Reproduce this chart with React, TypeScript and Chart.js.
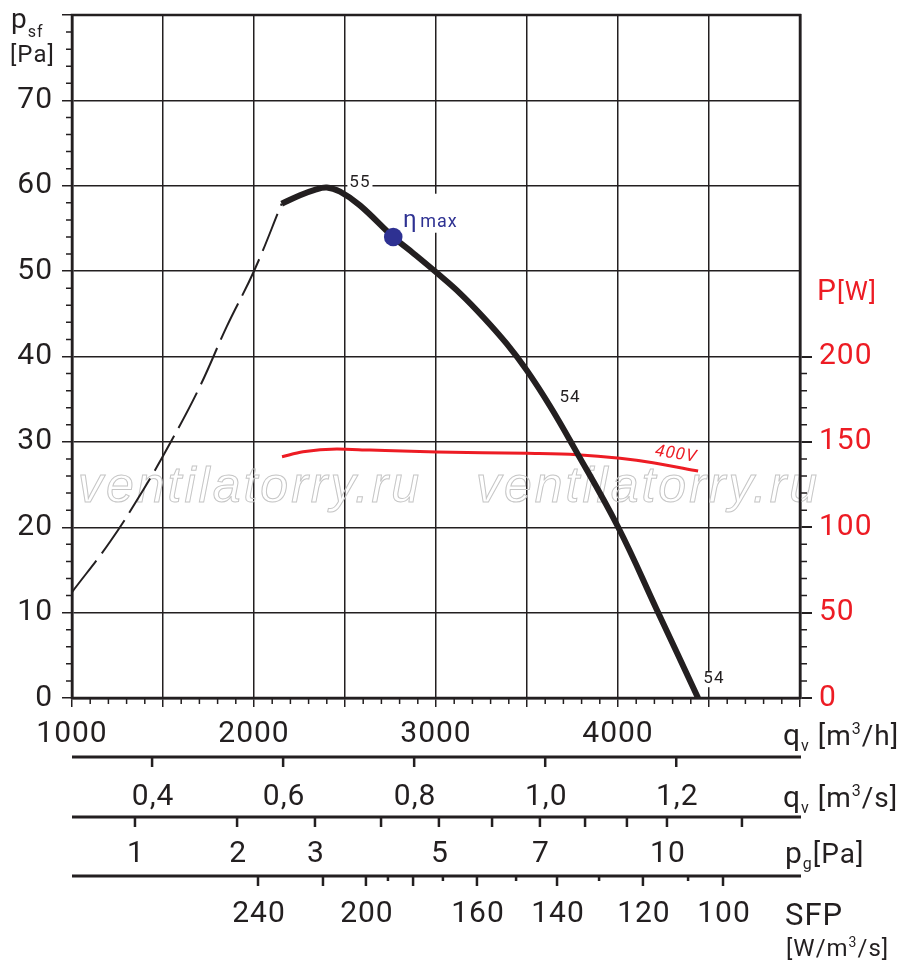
import React, { useEffect, useRef } from 'react';
import { Chart, registerables } from 'chart.js';

Chart.register(...registerables);

const INK = '#231f20';
const RED = '#ed1c24';
const BLUE = '#2e3192';
const FONT = 'Roboto, "DejaVu Sans", sans-serif';

// static pressure, unstable part (dashed) - q [m3/h], psf [Pa]
const psfUnstableQ = [1000, 1209, 1392, 1538, 1703, 1850, 2002, 2152];
const psfUnstable = [12.4, 18.3, 24.4, 29.8, 36.5, 43.5, 50.1, 57.9];

// static pressure, working part
const psfQ = [2152, 2253, 2330, 2400, 2473, 2582, 2765, 2875, 3004, 3132, 3260, 3388, 3498, 3626, 3754, 4001, 4212, 4440];
const psf = [57.9, 58.9, 59.5, 59.8, 59.3, 57.7, 54.0, 52.1, 49.8, 47.4, 44.6, 41.5, 38.4, 34.2, 29.5, 20.0, 10.4, 0];

// power input at 400V - q [m3/h], P [W]
const powerQ = [2154, 2269, 2456, 2637, 3005, 3500, 3775, 4011, 4192, 4440];
const power = [141.3, 144.2, 145.8, 145.2, 144.1, 143.3, 142.5, 140.4, 137.8, 132.9];

// best efficiency point
const etaMax = { q: 2765, p: 54.0 };

// curve labels (q, psf)
const curveLabels = [
  { text: '55', q: 2582, p: 60.3 },
  { text: '54', q: 3736, p: 35.2 },
  { text: '54', q: 4527, p: 2.2 },
];

// secondary axes below the chart
const qvSecTicks = [0.4, 0.6, 0.8, 1.0, 1.2];
const qvSecLabels = ['0,4', '0,6', '0,8', '1,0', '1,2'];

const pgTicks = [1, 2, 3, 4, 5, 6, 7, 8, 9, 10, 12];
const pgTickQ = [1346, 1907, 2335, 2698, 3016, 3308, 3571, 3819, 4049, 4269, 4681];
const pgLabels = [1, 2, 3, 5, 7, 10];

const sfpTicks = [240, 220, 200, 190, 180, 170, 160, 150, 140, 130, 120, 110, 100];
const sfpTickQ = [2022, 2379, 2615, 2736, 2874, 3038, 3225, 3440, 3665, 3896, 4137, 4385, 4577];
const sfpLabels = [240, 200, 160, 140, 120, 100];

type Part = { t: string; size: number; dy?: number };

function drawParts(ctx: CanvasRenderingContext2D, x: number, y: number, parts: Part[]) {
  let cx = x;
  ctx.textAlign = 'left';
  ctx.textBaseline = 'alphabetic';
  for (const p of parts) {
    ctx.font = `${p.size}px ${FONT}`;
    ctx.fillText(p.t, cx, y + (p.dy || 0));
    cx += ctx.measureText(p.t).width;
  }
}

const noPadding = (s: any) => {
  s.paddingTop = 0;
  s.paddingBottom = 0;
  s.paddingLeft = 0;
  s.paddingRight = 0;
};

const decorPlugin = {
  id: 'decor',
  beforeDraw(chart: any) {
    chart.ctx.letterSpacing = '1px';
  },
  beforeDatasetsDraw(chart: any) {
    const { ctx, chartArea: a, scales } = chart;
    const x = scales.x;
    const y = scales.y;
    const y1 = scales.y1;
    ctx.save();

    // watermark
    ctx.font = `italic 50px "Liberation Sans", sans-serif`;
    ctx.letterSpacing = '3px';
    ctx.strokeStyle = '#c6c6c6';
    ctx.lineWidth = 1;
    ctx.textAlign = 'center';
    ctx.textBaseline = 'alphabetic';
    for (const q of [1978, 4165]) {
      ctx.strokeText('ventilatorry.ru', x.getPixelForValue(q), y.getPixelForValue(23));
    }
    ctx.letterSpacing = '1px';

    // frame
    ctx.strokeStyle = INK;
    ctx.lineWidth = 2.5;
    ctx.strokeRect(a.left, a.top, a.right - a.left, a.bottom - a.top);

    // curve labels with white background
    ctx.font = `17px ${FONT}`;
    ctx.textAlign = 'center';
    ctx.textBaseline = 'middle';
    for (const l of curveLabels) {
      const px = x.getPixelForValue(l.q);
      const py = y.getPixelForValue(l.p);
      const w = ctx.measureText(l.text).width;
      ctx.fillStyle = '#fff';
      ctx.fillRect(px - w / 2 - 2, py - 8, w + 4, 16);
      ctx.fillStyle = INK;
      ctx.fillText(l.text, px, py);
    }

    // eta max label
    const ex = x.getPixelForValue(2819);
    const ey = y.getPixelForValue(55.2);
    ctx.fillStyle = '#fff';
    ctx.fillRect(ex - 2, ey - 33, 58, 39);
    ctx.fillStyle = BLUE;
    drawParts(ctx, ex, ey, [
      { t: 'η', size: 24 },
      { t: ' ', size: 6 },
      { t: 'max', size: 18 },
    ]);

    // 400V label
    ctx.save();
    ctx.translate(x.getPixelForValue(4319), y1.getPixelForValue(142.6));
    ctx.rotate((9 * Math.PI) / 180);
    ctx.fillStyle = RED;
    ctx.font = `italic 17px ${FONT}`;
    ctx.textAlign = 'center';
    ctx.textBaseline = 'middle';
    ctx.fillText('400V', 0, 0);
    ctx.restore();

    ctx.restore();
  },
  afterDraw(chart: any) {
    const { ctx, chartArea: a, scales } = chart;
    const x = scales.x;
    const y = scales.y;
    const y1 = scales.y1;
    ctx.save();
    ctx.strokeStyle = INK;
    ctx.fillStyle = INK;

    // minor ticks
    ctx.lineWidth = 1.5;
    ctx.beginPath();
    for (let q = 1100; q < 5000; q += 100) {
      if (q % 500 === 0) continue;
      const px = x.getPixelForValue(q);
      ctx.moveTo(px, a.bottom);
      ctx.lineTo(px, a.bottom + 6);
    }
    for (let p = 2; p < 80; p += 2) {
      if (p % 10 === 0) continue;
      const py = y.getPixelForValue(p);
      ctx.moveTo(a.left, py);
      ctx.lineTo(a.left - 6, py);
    }
    for (let w = 10; w < 200; w += 10) {
      if (w % 50 === 0) continue;
      const py = y1.getPixelForValue(w);
      ctx.moveTo(a.right, py);
      ctx.lineTo(a.right + 7, py);
    }
    ctx.stroke();

    // lower scales
    const rows = [a.bottom + 59, a.bottom + 119, a.bottom + 178];
    ctx.lineWidth = 3;
    ctx.beginPath();
    for (const ry of rows) {
      ctx.moveTo(a.left, ry);
      ctx.lineTo(a.right + 1, ry);
    }
    ctx.stroke();

    ctx.lineWidth = 2.5;
    ctx.beginPath();
    for (const v of qvSecTicks) {
      const px = x.getPixelForValue(v * 3600);
      ctx.moveTo(px, rows[0]);
      ctx.lineTo(px, rows[0] + 10);
    }
    pgTickQ.forEach((q) => {
      const px = x.getPixelForValue(q);
      ctx.moveTo(px, rows[1]);
      ctx.lineTo(px, rows[1] + 10);
    });
    sfpTickQ.forEach((q, i) => {
      const px = x.getPixelForValue(q);
      ctx.moveTo(px, rows[2]);
      ctx.lineTo(px, rows[2] + (sfpTicks[i] % 20 === 0 ? 10 : 5));
    });
    ctx.stroke();

    ctx.font = `30px ${FONT}`;
    ctx.textAlign = 'center';
    ctx.textBaseline = 'middle';
    qvSecTicks.forEach((v, i) => {
      ctx.fillText(qvSecLabels[i], x.getPixelForValue(v * 3600) + 1, rows[0] + 40);
    });
    pgTicks.forEach((v, i) => {
      if (pgLabels.includes(v)) ctx.fillText(String(v), x.getPixelForValue(pgTickQ[i]) + 1, rows[1] + 37);
    });
    sfpTicks.forEach((v, i) => {
      if (sfpLabels.includes(v)) ctx.fillText(String(v), x.getPixelForValue(sfpTickQ[i]) + 1, rows[2] + 38);
    });

    // unit labels
    const ux = a.right - 17;
    drawParts(ctx, ux, a.bottom + 47, [
      { t: 'q', size: 30 },
      { t: 'v', size: 16, dy: 6 },
      { t: ' [m', size: 28 },
      { t: '3', size: 16, dy: -11 },
      { t: '/h]', size: 28 },
    ]);
    drawParts(ctx, ux, rows[0] + 50, [
      { t: 'q', size: 30 },
      { t: 'v', size: 16, dy: 6 },
      { t: ' [m', size: 28 },
      { t: '3', size: 16, dy: -11 },
      { t: '/s]', size: 28 },
    ]);
    drawParts(ctx, ux + 2, rows[1] + 46, [
      { t: 'p', size: 30 },
      { t: 'g', size: 16, dy: 6 },
      { t: '[Pa]', size: 28 },
    ]);
    drawParts(ctx, ux + 2, rows[2] + 49, [{ t: 'SFP', size: 31 }]);
    drawParts(ctx, ux + 3, rows[2] + 80, [
      { t: '[W/m', size: 24 },
      { t: '3', size: 14, dy: -9 },
      { t: '/s]', size: 24 },
    ]);

    // axis titles
    drawParts(ctx, 11, 28, [
      { t: 'p', size: 28 },
      { t: 'sf', size: 16, dy: 9 },
    ]);
    drawParts(ctx, 10, 62, [{ t: '[Pa]', size: 24 }]);
    ctx.fillStyle = RED;
    drawParts(ctx, a.right + 17, 300, [
      { t: 'P', size: 30 },
      { t: '[W]', size: 26 },
    ]);

    ctx.restore();
    ctx.letterSpacing = '0px';
  },
};

export default function App() {
  const canvasRef = useRef<HTMLCanvasElement>(null);

  useEffect(() => {
    document.body.style.margin = '0';
    if (!canvasRef.current) return;

    const chart = new Chart(canvasRef.current, {
      type: 'line',
      data: {
        datasets: [
          {
            label: 'η max',
            type: 'scatter',
            data: [{ x: etaMax.q, y: etaMax.p }],
            yAxisID: 'y',
            pointRadius: 9.3,
            pointBackgroundColor: BLUE,
            pointBorderWidth: 0,
            order: 0,
          },
          {
            label: 'psf',
            data: psfQ.map((q, i) => ({ x: q, y: psf[i] })),
            yAxisID: 'y',
            borderColor: INK,
            borderWidth: 6,
            pointRadius: 0,
            tension: 0.4,
            order: 1,
          },
          {
            label: 'psf unstable',
            data: psfUnstableQ.map((q, i) => ({ x: q, y: psfUnstable[i] })),
            yAxisID: 'y',
            borderColor: INK,
            borderWidth: 2,
            borderDash: [40, 9],
            pointRadius: 0,
            tension: 0.4,
            order: 2,
          },
          {
            label: 'P 400V',
            data: powerQ.map((q, i) => ({ x: q, y: power[i] })),
            yAxisID: 'y1',
            borderColor: RED,
            borderWidth: 3,
            pointRadius: 0,
            cubicInterpolationMode: 'monotone',
            order: 3,
          },
        ],
      },
      options: {
        responsive: false,
        animation: false,
        layout: { padding: { top: 15, left: 0, right: 0, bottom: 0 } },
        plugins: {
          legend: { display: false },
          tooltip: { enabled: false },
        },
        scales: {
          x: {
            type: 'linear',
            position: 'bottom',
            min: 1000,
            max: 5000,
            afterFit: (s: any) => {
              s.height = 272;
              noPadding(s);
            },
            ticks: {
              stepSize: 500,
              autoSkip: false,
              maxRotation: 0,
              padding: 9,
              color: INK,
              font: { family: FONT, size: 30 },
              callback: (v: any) => (v % 1000 === 0 && v < 5000 ? String(v) : ''),
            },
            grid: { color: INK, lineWidth: 1.5, tickLength: 9 },
            border: { color: INK, width: 2.5 },
          },
          y: {
            type: 'linear',
            position: 'left',
            min: 0,
            max: 80,
            afterFit: (s: any) => {
              s.width = 72;
              noPadding(s);
            },
            ticks: {
              stepSize: 10,
              padding: 9,
              color: INK,
              font: { family: FONT, size: 30 },
              callback: (v: any) => (v < 80 ? String(v) : ''),
            },
            grid: { color: INK, lineWidth: 1.5, tickLength: 10 },
            border: { color: INK, width: 2.5 },
          },
          y1: {
            type: 'linear',
            position: 'right',
            min: 0,
            max: 400,
            afterFit: (s: any) => {
              s.width = 100;
              noPadding(s);
            },
            afterBuildTicks: (s: any) => {
              s.ticks = s.ticks.filter((t: any) => t.value <= 200);
            },
            ticks: {
              stepSize: 50,
              padding: 7,
              color: RED,
              font: { family: FONT, size: 30 },
            },
            grid: { drawOnChartArea: false, color: INK, lineWidth: 2, tickLength: 12 },
            border: { color: INK, width: 2.5 },
          },
        },
      },
      plugins: [decorPlugin],
    } as any);

    return () => chart.destroy();
  }, []);

  return (
    <div style={{ width: 900, height: 970 }}>
      <canvas ref={canvasRef} width={900} height={970} style={{ display: 'block' }} />
    </div>
  );
}
